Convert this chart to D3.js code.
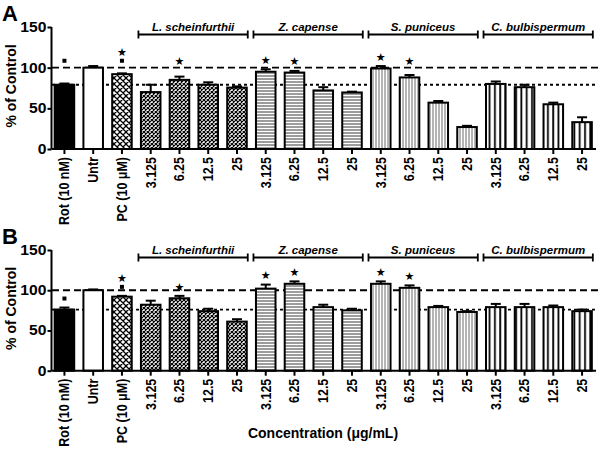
<!DOCTYPE html>
<html>
<head>
<meta charset="utf-8">
<script src="https://cdn.jsdelivr.net/npm/d3@7"></script>
<style>
  html, body { margin: 0; padding: 0; background: #fff; }
  svg { display: block; font-family: "Liberation Sans", Arial, sans-serif; }
</style>
</head>
<body>
<svg id="chart" width="600" height="458"></svg>
<script>
// ---------- data ----------
const categories = ["Rot (10 nM)", "Untr", "PC (10 \u03bcM)",
  "3.125", "6.25", "12.5", "25",
  "3.125", "6.25", "12.5", "25",
  "3.125", "6.25", "12.5", "25",
  "3.125", "6.25", "12.5", "25"];
const fillTypes = ["solid", "none", "cross",
  "checker", "checker", "checker", "checker",
  "hline", "hline", "hline", "hline",
  "vthin", "vthin", "vthin", "vthin",
  "vthick", "vthick", "vthick", "vthick"];
const groupNames = ["L. scheinfurthii", "Z. capense", "S. puniceus", "C. bulbispermum"];
const groupFirst = [3, 7, 11, 15];
const groupLast = [6, 10, 14, 18];

const meanA = [79, 100, 92, 70, 85, 79, 75.5, 95, 94, 72, 69.5, 99, 88, 57, 27, 80, 76, 55, 33];
const errA  = [1.5, 2, 1, 9, 4, 3, 1.5, 3, 2, 4, 1, 3, 3, 2, 1.5, 3, 3, 2, 6];
const meanB = [76, 100, 92, 82, 90, 74, 61, 102, 108, 79, 75, 108, 103, 79, 73, 79, 79, 79, 74];
const errB  = [2.5, 1, 1, 5, 3, 3, 3, 5, 3, 3, 2, 3, 3, 1.5, 1, 4, 4, 2, 2];
// significance markers: "sq" = square, "star" = star
const sigA = [["sq"], [], ["sq", "star"], [], ["star"], [], [], ["star"], ["star"], [], [], ["star"], ["star"], [], [], [], [], [], []];
const sigB = [["sq"], [], ["sq", "star"], [], ["star"], [], [], ["star"], ["star"], [], [], ["star"], ["star"], [], [], [], [], [], []];
const yTicks = [0, 50, 100, 150];
const yDomain = [0, 150];
const controlLevel = 100;

// ---------- drawing ----------
const svg = d3.select("#chart");
const defs = svg.append("defs");

function pat(id, w, h, draw) {
  const p = defs.append("pattern").attr("id", id)
    .attr("patternUnits", "userSpaceOnUse").attr("width", w).attr("height", h);
  p.append("rect").attr("width", w).attr("height", h).attr("fill", "#fff");
  draw(p);
}
pat("p-cross", 6, 6, p => {
  p.append("path").attr("d", "M0,0L6,6M6,0L0,6M-1,5L1,7M5,-1L7,1M-1,1L1,-1M5,7L7,5")
    .attr("stroke", "#000").attr("stroke-width", 1.3);
});
pat("p-checker", 4, 4, p => {
  p.append("path").attr("d", "M0,0L4,4M4,0L0,4")
    .attr("stroke", "#000").attr("stroke-width", 1.2);
});
pat("p-hline", 4, 3, p => {
  p.append("line").attr("x1", 0).attr("x2", 4).attr("y1", 1).attr("y2", 1)
    .attr("stroke", "#222").attr("stroke-width", 0.9);
});
pat("p-vthin", 3, 4, p => {
  p.append("line").attr("x1", 1).attr("x2", 1).attr("y1", 0).attr("y2", 4)
    .attr("stroke", "#444").attr("stroke-width", 0.8);
});
pat("p-vthick", 5.3, 4, p => {
  p.append("line").attr("x1", 2).attr("x2", 2).attr("y1", 0).attr("y2", 4)
    .attr("stroke", "#000").attr("stroke-width", 1.8);
});
const fillFor = t => t === "solid" ? "#000" : t === "none" ? "#fff" : `url(#p-${t})`;

const x = d3.scaleBand().domain(d3.range(categories.length))
  .range([51.5, 595]).paddingInner(0.32).paddingOuter(0.11);

function panel(letter, top, bottom, means, errs, sigs, sigCeil) {
  const y = d3.scaleLinear().domain(yDomain).range([bottom, top]);
  const g = svg.append("g");

  // reference lines
  g.append("line").attr("x1", 52).attr("x2", 598)
    .attr("y1", y(controlLevel)).attr("y2", y(controlLevel))
    .attr("stroke", "#000").attr("stroke-width", 1.8).attr("stroke-dasharray", "7,4");
  g.append("line").attr("x1", 52).attr("x2", 598)
    .attr("y1", y(means[0])).attr("y2", y(means[0]))
    .attr("stroke", "#000").attr("stroke-width", 1.8).attr("stroke-dasharray", "3,3");

  // bars
  const idx = d3.range(categories.length);
  g.selectAll("rect.bar").data(idx).join("rect").attr("class", "bar")
    .attr("x", i => x(i)).attr("width", x.bandwidth())
    .attr("y", i => y(means[i])).attr("height", i => y(0) - y(means[i]))
    .attr("fill", i => fillFor(fillTypes[i]))
    .attr("stroke", "#000").attr("stroke-width", 2);

  // error bars (upper)
  const eb = g.selectAll("g.err").data(idx).join("g").attr("class", "err");
  eb.append("line")
    .attr("x1", i => x(i) + x.bandwidth() / 2).attr("x2", i => x(i) + x.bandwidth() / 2)
    .attr("y1", i => y(means[i])).attr("y2", i => y(means[i] + errs[i]))
    .attr("stroke", "#000").attr("stroke-width", 2);
  eb.append("line")
    .attr("x1", i => x(i) + x.bandwidth() / 2 - 5).attr("x2", i => x(i) + x.bandwidth() / 2 + 5)
    .attr("y1", i => y(means[i] + errs[i])).attr("y2", i => y(means[i] + errs[i]))
    .attr("stroke", "#000").attr("stroke-width", 2);

  // significance markers
  idx.forEach(i => {
    let yc = y(means[i] + errs[i]) - 9;
    if (sigCeil != null) yc = Math.min(yc, y(sigCeil));
    const cx = x(i) + x.bandwidth() / 2;
    sigs[i].forEach((s, k) => {
      const yy = yc - k * 9;
      if (s === "sq") {
        g.append("rect").attr("x", cx - 2).attr("y", yy - 2).attr("width", 4).attr("height", 4).attr("fill", "#000");
      } else {
        g.append("text").attr("x", cx).attr("y", yy).attr("dy", "0.35em")
          .attr("text-anchor", "middle").attr("font-size", 11).attr("font-family", "DejaVu Sans")
          .text("\u2605");
      }
    });
  });

  // axes
  const ya = g.append("g").attr("transform", "translate(51.5,0)")
    .call(d3.axisLeft(y).tickValues(yTicks).tickSize(4).tickPadding(1).tickFormat(d3.format("d")));
  ya.select(".domain").attr("stroke-width", 2).attr("d", `M0,${top}V${bottom}`);
  ya.selectAll(".tick line").attr("stroke-width", 2);
  ya.selectAll(".tick text").attr("font-size", 14).attr("font-weight", "bold")
    .attr("font-family", "Liberation Sans, Arial, sans-serif").attr("fill", "#000")
    .attr("x", -4.5).attr("transform", "scale(1.12,1)");

  const xa = g.append("g").attr("transform", `translate(0,${bottom})`)
    .call(d3.axisBottom(x).tickSize(5).tickFormat(i => categories[i]));
  xa.select(".domain").attr("stroke-width", 2).attr("d", "M51.5,0H596");
  xa.selectAll(".tick line").attr("stroke-width", 2);
  xa.selectAll(".tick text").attr("font-size", 12.5).attr("font-weight", "bold")
    .attr("font-family", "Liberation Sans, Arial, sans-serif").attr("fill", "#000")
    .attr("transform", "scale(1.1,1) rotate(-90)").attr("text-anchor", "end")
    .attr("x", -8).attr("y", 0).attr("dy", "0.35em");

  // group brackets
  const by = top + 7.5;
  groupNames.forEach((name, k) => {
    const x0 = x(groupFirst[k]) - 2.5, x1 = x(groupLast[k]) + x.bandwidth() + 1;
    g.append("path").attr("d", `M${x0},${by - 4}V${by + 4}M${x0},${by}H${x1}M${x1},${by - 4}V${by + 4}`)
      .attr("stroke", "#000").attr("stroke-width", 1.8).attr("fill", "none");
    g.append("text").attr("x", (x0 + x1) / 2).attr("y", by - 3.5)
      .attr("text-anchor", "middle").attr("font-size", 11.5).attr("font-weight", "bold")
      .attr("font-style", "italic").text(name);
  });

  // y label
  g.append("text").attr("transform", `translate(16,${(top + bottom) / 2 - 2}) scale(1.1,1) rotate(-90)`)
    .attr("text-anchor", "middle").attr("font-size", 14).attr("font-weight", "bold")
    .text("% of Control");

  // panel letter
  g.append("text").attr("x", 2).attr("y", top - 6)
    .attr("font-size", 22).attr("font-weight", "bold").text(letter);
}

panel("A", 27, 149, meanA, errA, sigA, 108.5);
panel("B", 250, 370.7, meanB, errB, sigB, null);

svg.append("text").attr("x", 323).attr("y", 438).attr("text-anchor", "middle")
  .attr("font-size", 14).attr("font-weight", "bold").text("Concentration (\u03bcg/mL)");
</script>
</body>
</html>
